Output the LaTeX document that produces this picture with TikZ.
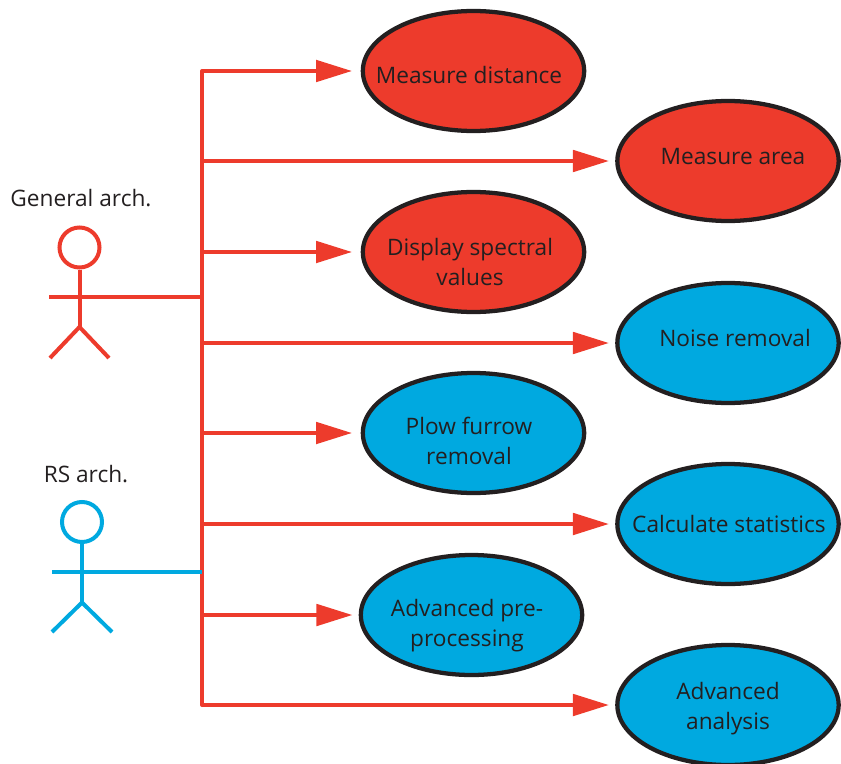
\documentclass[tikz,border=0pt]{standalone}
\usepackage{fontspec}
\setmainfont{Open Sans}
\usetikzlibrary{arrows.meta,shapes.geometric}
\definecolor{archred}{HTML}{ED3B2C}
\definecolor{archblue}{HTML}{00A9E0}
\definecolor{inkblack}{HTML}{231F20}
\tikzset{
  usecase/.style={ellipse,draw=inkblack,line width=3.2pt,inner sep=0pt,minimum width=166pt,minimum height=90pt},
  redcase/.style={usecase,fill=archred},
  bluecase/.style={usecase,fill=archblue},
  casetext/.style={text=inkblack,align=center,font=\fontsize{17}{22.5}\selectfont,inner sep=0pt},
  link/.style={archred,line width=3pt},
  linkarrow/.style={link,-{Triangle[length=27pt,width=16pt]},shorten >=4.7pt},
  figure/.style={line width=3pt},
}
\begin{document}
\begin{tikzpicture}[x=0.75pt,y=-0.75pt]
  \useasboundingbox (0,0) rectangle (841,763);
  %casi d'uso
  \node[redcase] (distance) at (473.5,71) {};
  \node[redcase] (area) at (728,161) {};
  \node[redcase] (spectral) at (473.5,252) {};
  \node[bluecase] (noise) at (728,343) {};
  \node[bluecase] (furrow) at (473.5,433) {};
  \node[bluecase] (statistics) at (728,524) {};
  \node[bluecase] (preproc) at (471.5,615) {};
  \node[bluecase] (analysis) at (728,705) {};
  %testi
  \node[casetext] (distancetxt) at (469,75) {Measure distance};
  \node[casetext] (areatxt) at (733,157) {Measure area};
  \node[casetext] (spectraltxt) at (470,262) {Display spectral\\values};
  \node[casetext] (noisetxt) at (735,338) {Noise removal};
  \node[casetext] (furrowtxt) at (469,441) {Plow furrow\\removal};
  \node[casetext] (statisticstxt) at (729,524) {Calculate statistics};
  \node[casetext] (preproctxt) at (467,626) {Advanced pre-\\processing};
  \node[casetext] (analysistxt) at (728,709) {Advanced\\analysis};
  %tronco
  \coordinate (top) at (202,71);
  \coordinate (j2) at (202,161);
  \coordinate (j3) at (202,252);
  \coordinate (j4) at (202,343);
  \coordinate (j5) at (202,433);
  \coordinate (j6) at (202,524);
  \coordinate (j7) at (202,615);
  \coordinate (bottom) at (202,705);
  \draw[link,line cap=round] (top) -- (bottom);
  %frecce
  \draw[linkarrow,shorten >=6.5pt] (top) -- (distance.west);
  \draw[linkarrow] (j2) -- (area.west);
  \draw[linkarrow,shorten >=6.5pt] (j3) -- (spectral.west);
  \draw[linkarrow] (j4) -- (noise.west);
  \draw[linkarrow,shorten >=6.5pt] (j5) -- (furrow.west);
  \draw[linkarrow] (j6) -- (statistics.west);
  \draw[linkarrow] (j7) -- (preproc.west);
  \draw[linkarrow] (bottom) -- (analysis.west);
  %attore rosso
  \node[casetext] (generallbl) at (81,198) {General arch.};
  \node[circle,draw=archred,figure,minimum size=30pt,inner sep=0pt] (generalhead) at (79.5,247.5) {};
  \coordinate (generalhip) at (79.5,327);
  \coordinate (generalarm) at (49,297);
  \coordinate (generaltrunk) at (202,297);
  \coordinate (generalfootl) at (50,358);
  \coordinate (generalfootr) at (109,358);
  \draw[archred,figure] (generalhead.south) -- (generalhip);
  \draw[archred,figure] (generalarm) -- (generaltrunk);
  \draw[archred,figure] (generalfootl) -- (generalhip) -- (generalfootr);
  %attore blu
  \node[casetext] (rslbl) at (86,474) {RS arch.};
  \node[circle,draw=archblue,figure,minimum size=30pt,inner sep=0pt] (rshead) at (82,522) {};
  \coordinate (rship) at (82,602.5);
  \coordinate (rsarm) at (52,572);
  \coordinate (rstrunk) at (202,572);
  \coordinate (rsfootl) at (52,632);
  \coordinate (rsfootr) at (112,632);
  \draw[archblue,figure] (rshead.south) -- (rship);
  \draw[archblue,figure] (rsarm) -- (rstrunk);
  \draw[archblue,figure] (rsfootl) -- (rship) -- (rsfootr);
\end{tikzpicture}
\end{document}
